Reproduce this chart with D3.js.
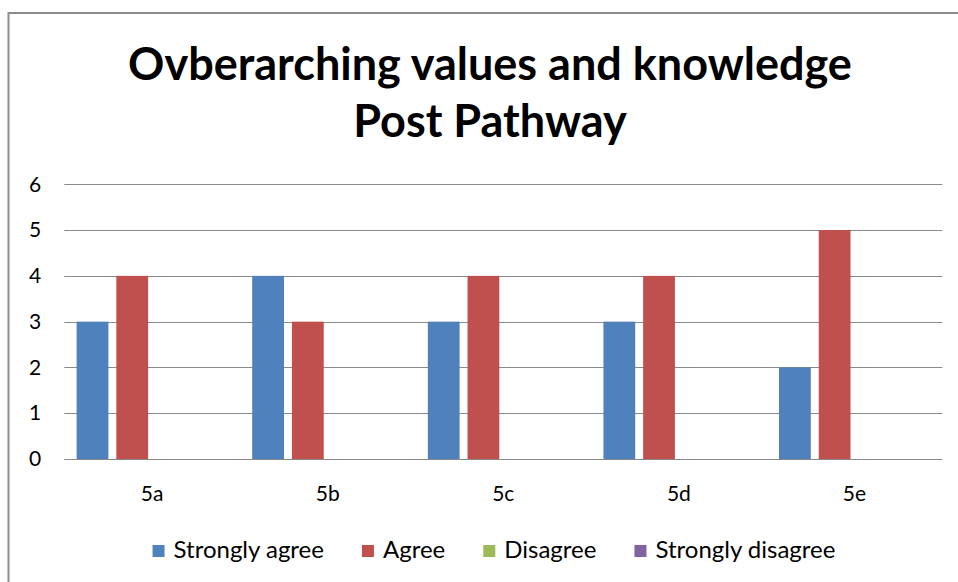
<!DOCTYPE html>
<html>
<head>
<meta charset="utf-8">
<script src="https://cdn.jsdelivr.net/npm/d3@7"></script>
<style>
  body { margin: 0; background: #fff; }
  text { font-family: Lato, "Open Sans", sans-serif; fill: #000; }
</style>
</head>
<body>
<div id="chart"></div>
<script>
// chart data
const categories = ['5a', '5b', '5c', '5d', '5e']
const seriesNames = ['Strongly agree', 'Agree', 'Disagree', 'Strongly disagree']
const stronglyAgree = [3, 4, 3, 3, 2]
const agree = [4, 3, 4, 4, 5]
const disagree = [0, 0, 0, 0, 0]
const stronglyDisagree = [0, 0, 0, 0, 0]
const yTicks = [0, 1, 2, 3, 4, 5, 6]
const titleLines = ['Ovberarching values and knowledge', 'Post Pathway']

const seriesValues = [stronglyAgree, agree, disagree, stronglyDisagree]
const colors = ['#4F81BD', '#C0504D', '#9BBB59', '#8064A2']

const width = 958, height = 582
const plot = {left: 64.3, right: 942.3, top: 184.3, bottom: 459}

var svg = d3.select('#chart')
    .append('svg')
    .attr('width', width)
    .attr('height', height)

// outer chart border (runs off the right and bottom edges)
svg.append('rect')
    .attr('x', 8.5).attr('y', 13)
    .attr('width', 1000).attr('height', 700)
    .attr('fill', 'none')
    .attr('stroke', '#8c8c8c')
    .attr('stroke-width', 2)

// title
svg.append('text')
    .attr('text-anchor', 'middle')
    .attr('font-size', 45)
    .attr('font-weight', 'bold')
    .selectAll('tspan')
    .data(titleLines)
    .enter()
    .append('tspan')
    .attr('x', 490)
    .attr('y', (d, i) => 80 + i * 57)
    .text(d => d)

// scales
const x0 = d3.scaleBand()
    .domain(categories)
    .range([plot.left, plot.right])

const x1 = d3.scaleBand()
    .domain(seriesNames)
    .range([0, x0.bandwidth()])
    .paddingInner(0.2)
    .paddingOuter(0.31)

const y = d3.scaleLinear()
    .domain([0, 6])
    .range([plot.bottom, plot.top])

// gridlines
svg.append('g')
    .selectAll('line')
    .data(yTicks)
    .enter()
    .append('line')
    .attr('x1', plot.left)
    .attr('x2', plot.right)
    .attr('y1', d => Math.round(y(d)) + 0.5)
    .attr('y2', d => Math.round(y(d)) + 0.5)
    .attr('stroke', '#8a8a8a')
    .attr('stroke-width', 1)

// y axis labels
const yAxis = svg.append('g')
    .attr('transform', `translate(${plot.left},0)`)
    .call(d3.axisLeft(y).tickValues(yTicks).tickFormat(d3.format('d')).tickSize(0).tickPadding(23))
yAxis.select('.domain').remove()
yAxis.selectAll('text')
    .attr('font-size', 21)
    .attr('fill', '#000')

// x axis labels
const xAxis = svg.append('g')
    .attr('transform', `translate(0,${plot.bottom})`)
    .call(d3.axisBottom(x0).tickSize(0).tickPadding(27))
xAxis.select('.domain').remove()
xAxis.selectAll('text')
    .attr('font-size', 21)
    .attr('fill', '#000')

// bars
const groups = svg.append('g')
    .selectAll('g')
    .data(categories)
    .enter()
    .append('g')
    .attr('transform', d => `translate(${x0(d)},0)`)

groups.selectAll('rect')
    .data((d, ci) => seriesNames.map((s, si) => ({series: s, value: seriesValues[si][ci], color: colors[si]})))
    .enter()
    .append('rect')
    .attr('x', d => x1(d.series))
    .attr('width', x1.bandwidth())
    .attr('y', d => y(d.value))
    .attr('height', d => y(0) - y(d.value))
    .attr('fill', d => d.color)

// legend
const legend = svg.append('g')
const items = legend.selectAll('g')
    .data(seriesNames)
    .enter()
    .append('g')

items.append('rect')
    .attr('width', 12).attr('height', 12)
    .attr('y', -13)
    .attr('fill', (d, i) => colors[i])

items.append('text')
    .attr('x', 21)
    .attr('font-size', 24)
    .text(d => d)

const itemGap = 38
let cursor = 0
items.each(function () {
    d3.select(this).attr('transform', `translate(${cursor},0)`)
    cursor += 21 + d3.select(this).select('text').node().getComputedTextLength() + itemGap
})
cursor -= itemGap
legend.attr('transform', `translate(${494 - cursor / 2},558)`)
</script>
</body>
</html>
